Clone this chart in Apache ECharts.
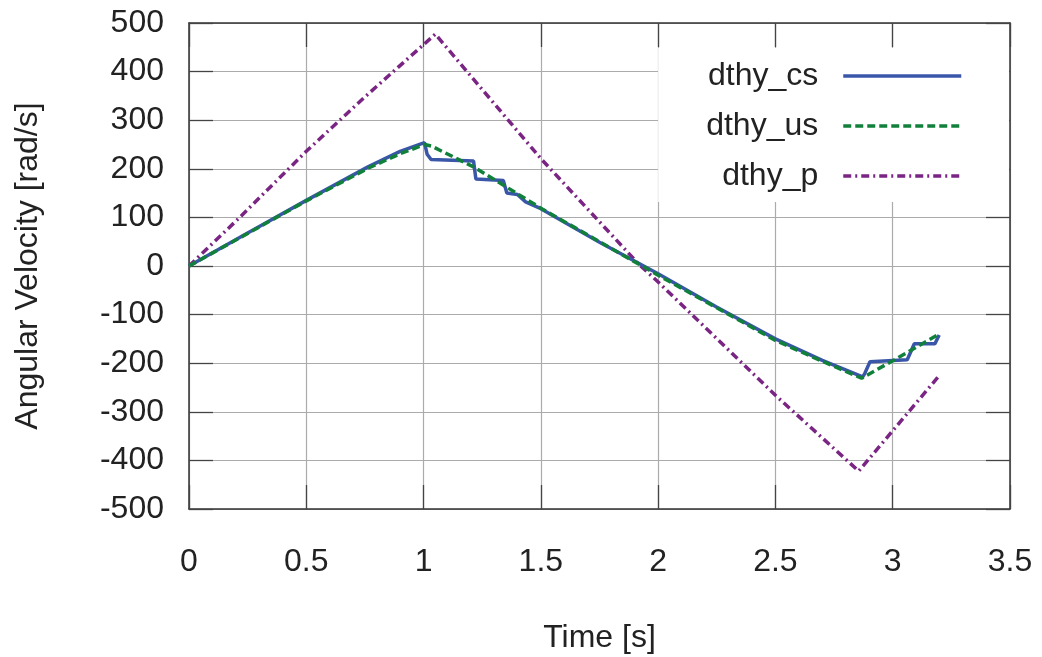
<!DOCTYPE html>
<html>
<head>
<meta charset="utf-8">
<script src="https://cdn.jsdelivr.net/npm/echarts@6/dist/echarts.min.js"></script>
<style>
html,body{margin:0;padding:0;background:#fff;}
#c{width:1042px;height:657px;}
</style>
</head>
<body>
<div id="c"></div>
<script>
// ---- data ----
var seriesNames = ['dthy_cs', 'dthy_us', 'dthy_p'];

var csTime = [0, 0.25, 0.5, 0.763, 0.9, 1.004, 1.015, 1.032, 1.213, 1.223, 1.34, 1.355, 1.40, 1.435, 1.5, 1.75, 2.0, 2.247, 2.5, 2.7, 2.872, 2.88, 2.903, 3.062, 3.092, 3.18, 3.198];
var csVel  = [0, 68, 135, 204, 236, 254, 230, 219, 216, 179, 176, 150, 147, 132, 118, 49, -16, -84, -150, -194, -228, -222, -197, -193, -160, -160, -142];

var usTime = [0, 0.25, 0.5, 0.763, 0.9, 1.005, 1.0325, 1.213, 1.5, 1.75, 2.0, 2.25, 2.5, 2.7, 2.867, 3.0, 3.198];
var usVel  = [0, 67, 134, 201, 231, 250, 247, 204, 119, 50, -19, -86, -153, -196, -231, -195, -140];

var pTime = [0, 0.212, 0.5, 0.75, 1.05, 1.5, 1.915, 2.0, 2.5, 2.855, 3.194];
var pVel  = [0, 98, 236, 348, 477, 221, 5, -33, -266, -422, -228];

var xMin = 0, xMax = 3.5, xStep = 0.5;
var yMin = -500, yMax = 500, yStep = 100;

function pairs(t, v) { return t.map(function (x, i) { return [x, v[i]]; }); }

var FONT = '"Liberation Sans", Arial, Helvetica, sans-serif';
var FS = 32;
var TXT = '#222';
var FRAME = '#333';
var GRIDC = '#ababab';

var chart = echarts.init(document.getElementById('c'), null, {renderer: 'canvas'});

function axisBase(isX, pos, main) {
  return {
    type: 'value',
    position: pos,
    min: isX ? xMin : yMin,
    max: isX ? xMax : yMax,
    interval: isX ? xStep : yStep,
    axisLine: {show: true, onZero: false, lineStyle: {color: FRAME, width: 1.5}},
    axisTick: {show: true, inside: true, length: 24, lineStyle: {color: '#444', width: 1.3}},
    splitLine: {show: main, lineStyle: {color: GRIDC, width: 1.2}},
    axisLabel: {show: main, color: TXT, fontSize: FS, fontFamily: FONT, margin: isX ? 37 : 25},
    name: main ? (isX ? 'Time [s]' : 'Angular Velocity [rad/s]') : '',
    nameLocation: 'middle',
    nameGap: isX ? 113 : 145,
    nameTextStyle: {color: TXT, fontSize: FS, fontFamily: FONT}
  };
}

var option = {
  backgroundColor: '#fff',
  animation: false,
  grid: {left: 189, right: 32, top: 23, bottom: 148, show: false, containLabel: false, outerBoundsMode: 'none'},
  xAxis: [axisBase(true, 'bottom', true), axisBase(true, 'top', false)],
  yAxis: [axisBase(false, 'left', true), axisBase(false, 'right', false)],
  legend: {
    data: seriesNames,
    orient: 'vertical',
    align: 'right',
    right: 33,
    top: 48,
    padding: [12, 46, 10, 48],
    itemWidth: 118,
    itemHeight: 14,
    itemGap: 18,
    backgroundColor: '#fff',
    itemStyle: {opacity: 0},
    lineStyle: {width: 3.5},
    textStyle: {color: TXT, fontSize: FS, fontFamily: FONT, padding: [0, 20, 0, 0]},
    inactiveColor: '#ccc'
  },
  series: [
    {
      name: seriesNames[0], type: 'line', symbol: 'none', xAxisIndex: 0, yAxisIndex: 0,
      data: pairs(csTime, csVel), z: 4,
      lineStyle: {color: '#3a56a8', width: 3.5},
      itemStyle: {color: '#3a56a8'}
    },
    {
      name: seriesNames[1], type: 'line', symbol: 'none', xAxisIndex: 0, yAxisIndex: 0,
      data: pairs(usTime, usVel), z: 5,
      lineStyle: {color: '#11803b', width: 3.5, type: [8, 4]},
      itemStyle: {color: '#11803b'}
    },
    {
      name: seriesNames[2], type: 'line', symbol: 'none', xAxisIndex: 0, yAxisIndex: 0,
      data: pairs(pTime, pVel), z: 3,
      lineStyle: {color: '#7a2583', width: 3.5, type: [8, 4, 2, 4]},
      itemStyle: {color: '#7a2583'}
    }
  ]
};
chart.setOption(option);
</script>
</body>
</html>
